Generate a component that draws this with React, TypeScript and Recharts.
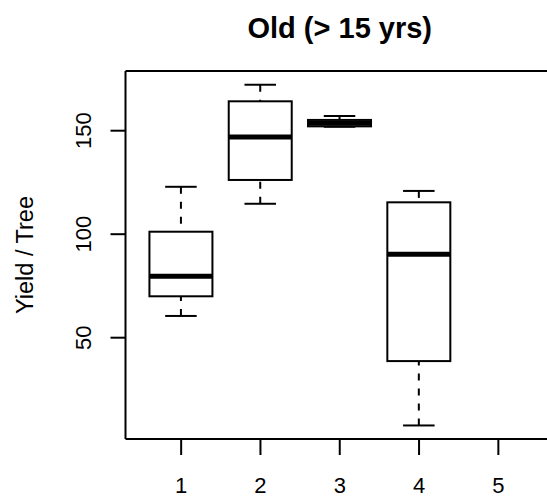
import { ComposedChart, Bar, XAxis, YAxis, ReferenceLine } from "recharts";

const FONT = '"Liberation Sans", Arial, Helvetica, sans-serif';

// five-number summaries (group 5 is empty)
const groups = ["1", "2", "3", "4", "5"];
const whiskerLow = [60.5, 114.7, 151.9, 7.6, null];
const quartile1 = [70, 126.2, 152.1, 38.7, null];
const medians = [79.7, 147, 153.6, 90.3, null];
const quartile3 = [101.2, 164.2, 155.2, 115.4, null];
const whiskerHigh = [122.9, 172.2, 157.1, 120.9, null];
const yTicks = [50, 100, 150];
const yDomain = [1.06, 178.84];

const data = groups.map((g, i) => ({
  group: g,
  lo: whiskerLow[i],
  q1: quartile1[i],
  med: medians[i],
  q3: quartile3[i],
  hi: whiskerHigh[i],
}));

function BoxShape(props: any) {
  const { x, y, width, height, payload } = props;
  if (payload == null || payload.lo == null) return <g />;
  const top = Math.min(y, y + height);
  const bottom = Math.max(y, y + height);
  const span = payload.hi - payload.lo;
  // position of a value inside the whisker range drawn by the bar
  const py = (v: number) => top + ((bottom - top) * (payload.hi - v)) / span;
  const cx = x + width / 2;
  const cap = width / 4;
  const yQ1 = py(payload.q1);
  const yQ3 = py(payload.q3);
  const yMed = py(payload.med);
  return (
    <g>
      <line x1={cx} x2={cx} y1={top} y2={yQ3} stroke="#000" strokeWidth={2} strokeDasharray="7 8" />
      <line x1={cx} x2={cx} y1={bottom} y2={yQ1} stroke="#000" strokeWidth={2} strokeDasharray="7 8" />
      <line x1={cx - cap} x2={cx + cap} y1={top} y2={top} stroke="#000" strokeWidth={2} />
      <line x1={cx - cap} x2={cx + cap} y1={bottom} y2={bottom} stroke="#000" strokeWidth={2} />
      <rect x={x} y={yQ3} width={width} height={yQ1 - yQ3} fill="#fff" stroke="#000" strokeWidth={2} />
      <line x1={x} x2={x + width} y1={yMed} y2={yMed} stroke="#000" strokeWidth={5} />
    </g>
  );
}

function YTick({ x, y, payload }: any) {
  return (
    <text
      x={x}
      y={y}
      transform={`rotate(-90, ${x}, ${y})`}
      textAnchor="middle"
      fontSize={22}
      fontFamily={FONT}
      fill="#000"
    >
      {payload.value}
    </text>
  );
}

function XTick({ x, y, payload }: any) {
  return (
    <text x={x} y={y} textAnchor="middle" fontSize={22} fontFamily={FONT} fill="#000">
      {payload.value}
    </text>
  );
}

function YTitle(props: any) {
  const vb = props.viewBox || {};
  const tx = vb.x + 33;
  const ty = vb.y + vb.height / 2;
  return (
    <text
      x={tx}
      y={ty}
      transform={`rotate(-90, ${tx}, ${ty})`}
      textAnchor="middle"
      fontSize={23.5}
      fontFamily={FONT}
      fill="#000"
    >
      Yield / Tree
    </text>
  );
}

export default function App() {
  return (
    <div
      style={{
        position: "absolute",
        left: 0,
        top: 0,
        width: 547,
        height: 498,
        overflow: "hidden",
        background: "#fff",
      }}
    >
      <div
        style={{
          position: "absolute",
          left: 125.5,
          top: 14,
          width: 428.5,
          textAlign: "center",
          fontFamily: FONT,
          fontWeight: "bold",
          fontSize: 29,
          lineHeight: "29px",
          color: "#000",
        }}
      >
        Old (&gt; 15 yrs)
      </div>
      <ComposedChart
        width={560}
        height={498}
        data={data}
        margin={{ top: 71, right: 6, bottom: 0, left: 0 }}
        barCategoryGap="10%"
      >
        <XAxis
          dataKey="group"
          type="category"
          height={59}
          padding={{ left: 16, right: 16 }}
          tickSize={16}
          tickMargin={38}
          tick={<XTick />}
          axisLine={{ stroke: "#000", strokeWidth: 2 }}
          tickLine={{ stroke: "#000", strokeWidth: 2 }}
          interval={0}
        />
        <YAxis
          type="number"
          width={125.5}
          domain={yDomain}
          allowDataOverflow
          ticks={yTicks}
          tickSize={15}
          tickMargin={19}
          tick={<YTick />}
          axisLine={{ stroke: "#000", strokeWidth: 2 }}
          tickLine={{ stroke: "#000", strokeWidth: 2 }}
          label={(p: any) => <YTitle {...p} />}
        />
        <ReferenceLine y={yDomain[1]} stroke="#000" strokeWidth={2} ifOverflow="visible" />
        <Bar
          dataKey={(d: any) => (d.lo == null ? null : [d.lo, d.hi])}
          shape={<BoxShape />}
          isAnimationActive={false}
        />
      </ComposedChart>
    </div>
  );
}
